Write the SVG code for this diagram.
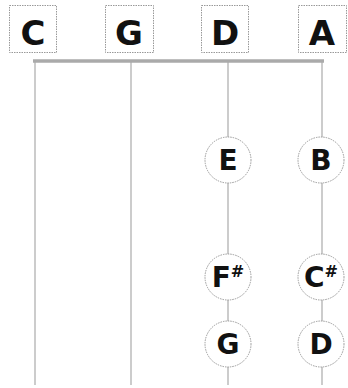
<svg xmlns="http://www.w3.org/2000/svg" width="348" height="388" viewBox="0 0 348 388">
<style>
.box{fill:#fff;stroke:#999;stroke-width:1;stroke-dasharray:1.5 1}
.hd{font-family:"DejaVu Sans","Liberation Sans",sans-serif;font-size:34px;font-weight:bold;fill:#111;text-anchor:middle}
.note{fill:#fff;stroke:#999;stroke-width:1;stroke-dasharray:1.5 1}
.nt{font-family:"DejaVu Sans","Liberation Sans",sans-serif;font-size:28px;font-weight:bold;fill:#111;text-anchor:middle}
.str{stroke:#aaa;stroke-width:1.2;fill:none}
.sh{font-size:16px}
</style>
<rect width="348" height="388" fill="#fff"/>
<g id="connectors">
<line x1="33" y1="61" x2="324" y2="61" stroke="#aaa" stroke-width="3.5"/>
<line class="str" x1="35" y1="61" x2="35" y2="385"/>
<line class="str" x1="131" y1="61" x2="131" y2="385"/>
<line class="str" x1="228" y1="61" x2="228" y2="385"/>
<line class="str" x1="322" y1="61" x2="322" y2="385"/>
</g>
<g id="hC"><rect class="box" x="9.5" y="5.5" width="47" height="47"/><text class="hd" x="33" y="45">C</text></g>
<g id="hG"><rect class="box" x="105.5" y="5.5" width="48" height="47"/><text class="hd" x="129" y="45">G</text></g>
<g id="hD"><rect class="box" x="201.5" y="5.5" width="47" height="47"/><text class="hd" x="225" y="45">D</text></g>
<g id="hA"><rect class="box" x="298.5" y="5.5" width="48" height="47"/><text class="hd" x="322" y="45">A</text></g>
<g id="nE"><circle class="note" cx="228" cy="160" r="23"/><text class="nt" x="228" y="170">E</text></g>
<g id="nB"><circle class="note" cx="321" cy="160" r="23"/><text class="nt" x="321" y="170">B</text></g>
<g id="nFs"><circle class="note" cx="228" cy="277" r="23"/><text class="nt" x="228" y="287">F<tspan class="sh" dy="-10">#</tspan></text></g>
<g id="nCs"><circle class="note" cx="321" cy="277" r="23"/><text class="nt" x="321" y="287">C<tspan class="sh" dy="-10">#</tspan></text></g>
<g id="nG"><circle class="note" cx="228" cy="344" r="23"/><text class="nt" x="228" y="354">G</text></g>
<g id="nD"><circle class="note" cx="321" cy="344" r="23"/><text class="nt" x="321" y="354">D</text></g>
</svg>
